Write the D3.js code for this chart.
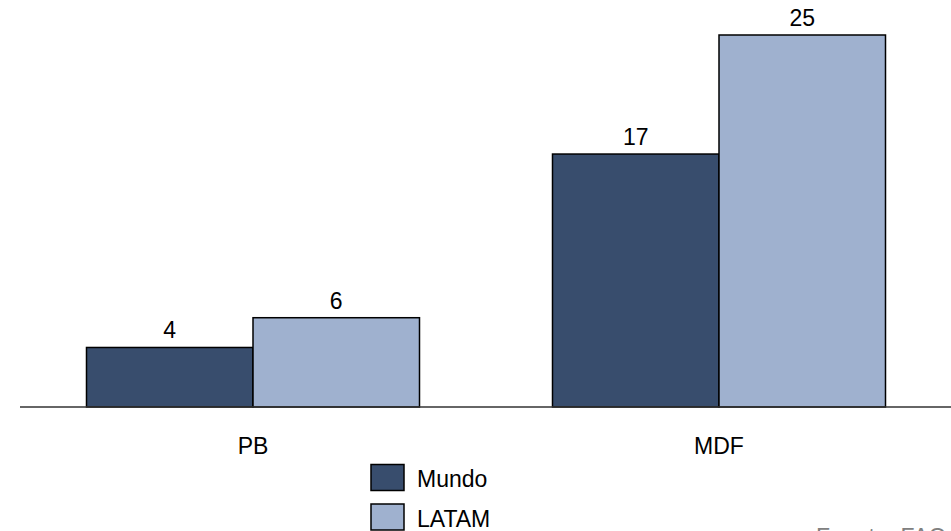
<!DOCTYPE html>
<html>
<head>
<meta charset="utf-8">
<script src="https://cdn.jsdelivr.net/npm/d3@7"></script>
<style>
  html, body { margin: 0; padding: 0; background: #fff; overflow: hidden; }
  svg { display: block; font-family: "Liberation Sans", Arial, sans-serif; }
</style>
</head>
<body>
<svg id="chart" width="951" height="531"></svg>
<script>
// Categories and series
const categories = ["PB", "MDF"];
const seriesNames = ["Mundo", "LATAM"];
const mundoValues = [4, 17];
const latamValues = [6, 25];
const sourceNote = "Fuente: FAO";

const colors = { Mundo: "#384d6d", LATAM: "#9fb1cf" };

const svg = d3.select("#chart");
const baseY = 407;
const fontSize = 23;

const x0 = d3.scaleBand()
  .domain(categories)
  .range([20, 952])
  .paddingInner(0.2854)
  .paddingOuter(0.1427);

const x1 = d3.scaleBand()
  .domain(seriesNames)
  .range([0, x0.bandwidth()]);

const y = d3.scaleLinear().domain([0, 25]).range([baseY, 35]);

const rows = categories.map((c, i) => ({
  cat: c,
  vals: [
    { name: "Mundo", value: mundoValues[i] },
    { name: "LATAM", value: latamValues[i] }
  ]
}));

// Bars
const groups = svg.append("g").selectAll("g")
  .data(rows).join("g")
  .attr("transform", d => `translate(${x0(d.cat)},0)`);

groups.selectAll("rect")
  .data(d => d.vals).join("rect")
  .attr("x", d => x1(d.name))
  .attr("y", d => y(d.value))
  .attr("width", x1.bandwidth())
  .attr("height", d => y(0) - y(d.value))
  .attr("fill", d => colors[d.name])
  .attr("stroke", "#000")
  .attr("stroke-width", 1.5);

// Value labels
groups.selectAll("text.val")
  .data(d => d.vals).join("text")
  .attr("class", "val")
  .attr("x", d => x1(d.name) + x1.bandwidth() / 2)
  .attr("y", d => y(d.value) - 9)
  .attr("text-anchor", "middle")
  .attr("font-size", fontSize)
  .attr("fill", "#000")
  .text(d => d.value);

// Baseline
svg.append("line")
  .attr("x1", 20).attr("x2", 951)
  .attr("y1", baseY).attr("y2", baseY)
  .attr("stroke", "#333")
  .attr("stroke-width", 1.5);

// Category axis
const axis = svg.append("g")
  .attr("transform", `translate(0,${baseY})`)
  .call(d3.axisBottom(x0).tickSize(0).tickPadding(30.7));
axis.select(".domain").remove();
axis.selectAll("text")
  .attr("font-size", fontSize)
  .attr("font-family", "Liberation Sans, Arial, sans-serif")
  .attr("fill", "#000");

// Legend
const legend = svg.append("g");
seriesNames.forEach((s, i) => {
  const ly = 464.5 + i * 39.5;
  legend.append("rect")
    .attr("x", 371).attr("y", ly)
    .attr("width", 33).attr("height", 26)
    .attr("fill", colors[s])
    .attr("stroke", "#000")
    .attr("stroke-width", 1.5);
  legend.append("text")
    .attr("x", 417).attr("y", ly + 22.5)
    .attr("font-size", fontSize)
    .attr("fill", "#000")
    .text(s);
});

// Source note
svg.append("text")
  .attr("x", 816).attr("y", 545)
  .attr("font-size", fontSize)
  .attr("fill", "#808080")
  .text(sourceNote);
</script>
</body>
</html>
